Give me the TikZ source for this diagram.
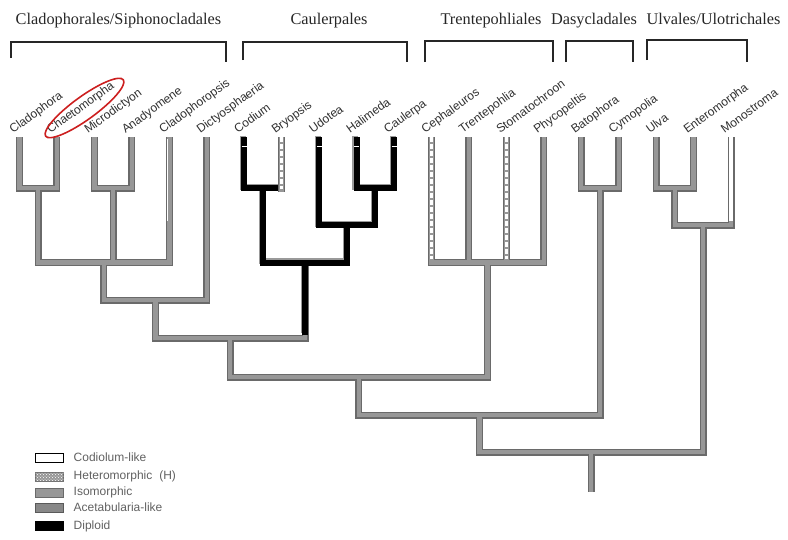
\documentclass[tikz,border=0pt]{standalone}
\usepackage{fontspec}
\setmainfont{Liberation Serif}
\setsansfont{Liberation Sans}
\usetikzlibrary{calc,shapes.geometric,patterns}

\definecolor{isoEdge}{HTML}{6A6A6A}
\definecolor{isoFill}{HTML}{979797}
\definecolor{aceEdge}{HTML}{5A5A5A}
\definecolor{aceFill}{HTML}{888888}
\definecolor{labelInk}{HTML}{303030}
\definecolor{markRed}{HTML}{CC1F1F}

\tikzset{
  branchOuter/.style={draw=isoEdge, line width=7pt, line cap=butt, line join=miter},
  branchInner/.style={draw=isoFill, line width=4.4pt, line cap=butt, line join=miter},
  diploidShadow/.style={draw=black!40, line width=6pt, line cap=butt, line join=miter,
    transform canvas={xshift=-1.1pt,yshift=1.1pt}},
  diploidCore/.style={draw=black, line width=6pt, line cap=butt, line join=miter},
  heteroMarks/.style={draw=white, line width=2.6pt, dash pattern=on 5pt off 2pt},
  codiolumCore/.style={draw=white, line width=4.4pt},
  taxon/.style={font=\sffamily\fontsize{12}{14}\selectfont, text=labelInk,
    rotate=36, anchor=base west, inner sep=0pt},
  order/.style={font=\fontsize{16.3}{19}\selectfont, text=black!85, anchor=base, inner sep=0pt},
  bracket/.style={draw=black!85, line width=2.4pt, line cap=butt, line join=miter},
  legbox/.style={minimum width=28pt, minimum height=9pt, inner sep=0pt, line width=1pt},
  legtext/.style={font=\sffamily\fontsize{12}{14}\selectfont, text=black!62, anchor=west, inner sep=0pt},
}

% haploid / isomorphic branches (drawn twice: dark rim, then light core)
\newcommand\isoTree[1]{%
  \draw[#1]
    (Cladophora) |- (nCC) (Chaetomorpha) |- (nCC)
    (Microdictyon) |- (nMA) (Anadyomene) |- (nMA)
    (nCC) |- (nCl) (nMA) |- (nCl) (Cladophoropsis) |- (nCl)
    (nCl) |- (nCD) (Dictyosphaeria) |- (nCD)
    (nCD) |- (nA) (nCaul) |- (nA)
    (nA) |- (nB)
    (Cephaleuros) |- (nTr) (Trentepohlia) |- (nTr)
    (Stomatochroon) |- (nTr) (Phycopeltis) |- (nTr)
    (nTr) |- (nB)
    (nB) |- (nC) (nDa) |- (nC)
    (Batophora) |- (nDa) (Cymopolia) |- (nDa)
    (Ulva) |- (nUE) (Enteromorpha) |- (nUE)
    (nUE) |- (nUl) (Monostroma) |- (nUl)
    (nC) |- (root) (nUl) |- (root)
    (root) -- (base);}

% diploid branches of the Caulerpales (shadow pass, then black pass)
\newcommand\diploidTree[1]{%
  \draw[#1]
    (Codium) |- (nCB) (Bryopsis |- nCB) -- (nCB)
    (Udotea) |- (nUHC)
    (Halimeda) |- (nHC) (Caulerpa) |- (nHC)
    (nHC) |- (nUHC)
    (nCB) |- (nCaul) (nUHC) |- (nCaul)
    (nCaul) -- ($(nCaul |- nA)+(0,-3.5)$);}

\begin{document}
\begin{tikzpicture}[x=1pt,y=-1pt]
\useasboundingbox (0,0) rectangle (788,539);

% taxa along the top of the tree
\foreach \name [count=\i from 0] in {Cladophora,Chaetomorpha,Microdictyon,Anadyomene,
    Cladophoropsis,Dictyosphaeria,Codium,Bryopsis,Udotea,Halimeda,Caulerpa,
    Cephaleuros,Trentepohlia,Stomatochroon,Phycopeltis,Batophora,Cymopolia,
    Ulva,Enteromorpha,Monostroma}{
  \coordinate (\name) at ({19.5+37.45*\i},137);
  \node[taxon] (t\name) at ($(\name)+(-6.5,-3)$) {\name};
}

% internal nodes
\coordinate (nCC)   at (38.25,188);
\coordinate (nMA)   at (113.15,188);
\coordinate (nCl)   at (103.8,262.5);
\coordinate (nCD)   at (155.3,300);
\coordinate (nCB)   at (262.95,188);
\coordinate (nHC)   at (375.3,188);
\coordinate (nUHC)  at (347.2,225);
\coordinate (nCaul) at (305.1,262.5);
\coordinate (nA)    at (230.2,338);
\coordinate (nTr)   at (487.65,262.5);
\coordinate (nB)    at (358.9,377);
\coordinate (nDa)   at (600,188);
\coordinate (nC)    at (479.5,415);
\coordinate (nUE)   at (674.9,188);
\coordinate (nUl)   at (703,225);
\coordinate (root)  at (591.2,452);
\coordinate (base)  at (591.2,492);

% grey branches
\isoTree{branchOuter}
\isoTree{branchInner}

% thin light stripe on Cladophoropsis
\draw[white, line width=0.9pt] ($(Cladophoropsis)+(-1.6,2)$) -- ++(0,82);

% diploid branches
\diploidTree{diploidShadow}
\diploidTree{diploidCore}
\foreach \t in {Codium,Udotea,Halimeda,Caulerpa}
  \draw[white, line width=1pt] ($(\t)+(-2.5,9)$) -- ++(5,0);

% Bryopsis: heteromorphic tip over the diploid bar
\draw[branchOuter] (Bryopsis) -- ($(Bryopsis |- nCB)+(0,3.5)$);
\draw[branchInner] (Bryopsis) -- ($(Bryopsis |- nCB)+(0,3.5)$);
\draw[heteroMarks] (Bryopsis) -- ($(Bryopsis |- nCB)+(0,1)$);

% heteromorphic tips of the Trentepohliales
\draw[heteroMarks] (Cephaleuros) -- ($(Cephaleuros |- nTr)+(0,-3.5)$);
\draw[heteroMarks] (Stomatochroon) -- ($(Stomatochroon |- nTr)+(0,-3.5)$);

% Codiolum-like Monostroma
\draw[codiolumCore] (Monostroma) -- ++(0,84);

% highlighted taxon
\node[draw=markRed, line width=1.6pt, ellipse, minimum width=96pt, minimum height=23pt,
      inner sep=0pt, rotate=36] (mark) at (84.5,108) {};

% orders and their brackets
\node[order] (oClado) at (118.5,24.5) {Cladophorales/Siphonocladales};
\node[order] (oCaul)  at (329,24.5)   {Caulerpales};
\node[order] (oTrent) at (491,24.5)   {Trentepohliales};
\node[order] (oDasy)  at (594,24.5)   {Dasycladales};
\node[order] (oUlv)   at (713.5,24.5) {Ulvales/Ulotrichales};

\draw[bracket] (11,58) |- (226,42) -- (226,62);
\draw[bracket] (243,60) |- (407,42) -- (407,62);
\draw[bracket] (425,62) |- (553,41) -- (553,62);
\draw[bracket] (566,62) |- (633,41) -- (633,62);
\draw[bracket] (647,60) |- (747,40) -- (747,62);

% legend
\node[legbox, draw=black, fill=white]       (kCod) at (49,457.5) {};
\node[legbox, draw=isoEdge, fill=isoFill]   (kHet) at (49,476.5) {};
\fill[pattern=crosshatch dots, pattern color=white] (kHet.south west) rectangle (kHet.north east);
\node[legbox, draw=isoEdge, fill=isoFill]   (kIso) at (49,492.5) {};
\node[legbox, draw=aceEdge, fill=aceFill]   (kAce) at (49,507.5) {};
\node[legbox, draw=black, fill=black]       (kDip) at (49,526) {};

\node[legtext] (lCod) at ($(kCod.east)+(10,0)$) {Codiolum-like};
\node[legtext] (lHet) at ($(kHet.east)+(10,0)$) {Heteromorphic\hspace{0.3em} (H)};
\node[legtext] (lIso) at ($(kIso.east)+(10,0)$) {Isomorphic};
\node[legtext] (lAce) at ($(kAce.east)+(10,0)$) {Acetabularia-like};
\node[legtext] (lDip) at ($(kDip.east)+(10,0)$) {Diploid};
\end{tikzpicture}
\end{document}
